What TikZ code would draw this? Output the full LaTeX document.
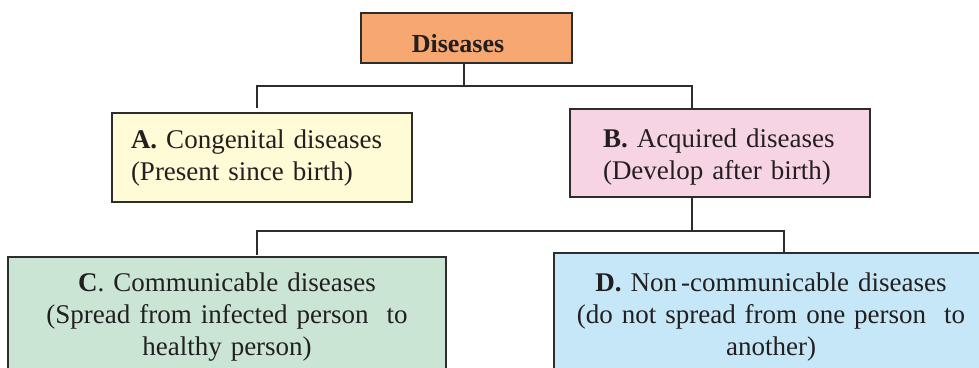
\documentclass[tikz,border=0pt]{standalone}
\usepackage{fontspec}
\setmainfont{Liberation Serif}
\definecolor{cOr}{RGB}{246,168,112}
\definecolor{cYe}{RGB}{255,251,214}
\definecolor{cPi}{RGB}{247,212,228}
\definecolor{cGr}{RGB}{202,229,212}
\definecolor{cBl}{RGB}{197,231,247}
\definecolor{cBd}{RGB}{45,45,45}
\definecolor{cTx}{RGB}{35,31,32}
\tikzset{
  box/.style={draw=cBd, line width=2pt, rectangle, inner ysep=0pt, text=cTx,
    font=\fontsize{27}{32}\selectfont},
  conn/.style={draw=cBd, line width=2pt}
}
\begin{document}
\begin{tikzpicture}[x=1pt,y=-1pt]
\useasboundingbox (0,0) rectangle (979,367);
\node[box, fill=cOr, inner xsep=0pt, minimum width=211, minimum height=50,
  text height=28pt, text depth=0pt, font=\bfseries\fontsize{26}{30}\selectfont]
  (dis) at (466.5,38) {Diseases\hspace*{17pt}};
\node[box, fill=cYe, minimum width=300, minimum height=89, text width=262,
  inner xsep=19pt, align=left, text height=20pt, text depth=39pt]
  (A) at (262,157.5) {\textbf{A.} Congenital diseases\\(Present since birth)};
\node[box, fill=cPi, minimum width=300, minimum height=88, text width=234,
  inner xsep=33pt, align=left, text height=20pt, text depth=32pt]
  (B) at (720,153) {\textbf{B.} Acquired diseases\\(Develop after birth)};
\node[box, fill=cGr, minimum width=438, minimum height=120, text width=418,
  inner xsep=10pt, align=center, text height=20pt, text depth=72pt]
  (C) at (227,317) {\textbf{C}. Communicable diseases\\(Spread from infected person\ \ to\\healthy person)};
\node[box, fill=cBl, minimum width=434, minimum height=124, text width=414,
  inner xsep=10pt, align=center, text height=20pt, text depth=68pt]
  (D) at (771,315) {\textbf{D.} Non\hspace{0.15em}-communicable diseases\\(do not spread from one person\ \ to\\another)};
\coordinate (lA) at (257,108);
\coordinate (lB) at (692,109);
\coordinate (lC) at (257,255);
\coordinate (lD) at (784,253);
\draw[conn] (dis.south -| 464,0) -- ++(0,23);
\draw[conn] (lA) -- ++(0,-22) -| (lB);
\draw[conn] (B.south -| lB) -- ++(0,34);
\draw[conn] (lC) -- ++(0,-24) -| (lD);
\end{tikzpicture}
\end{document}
